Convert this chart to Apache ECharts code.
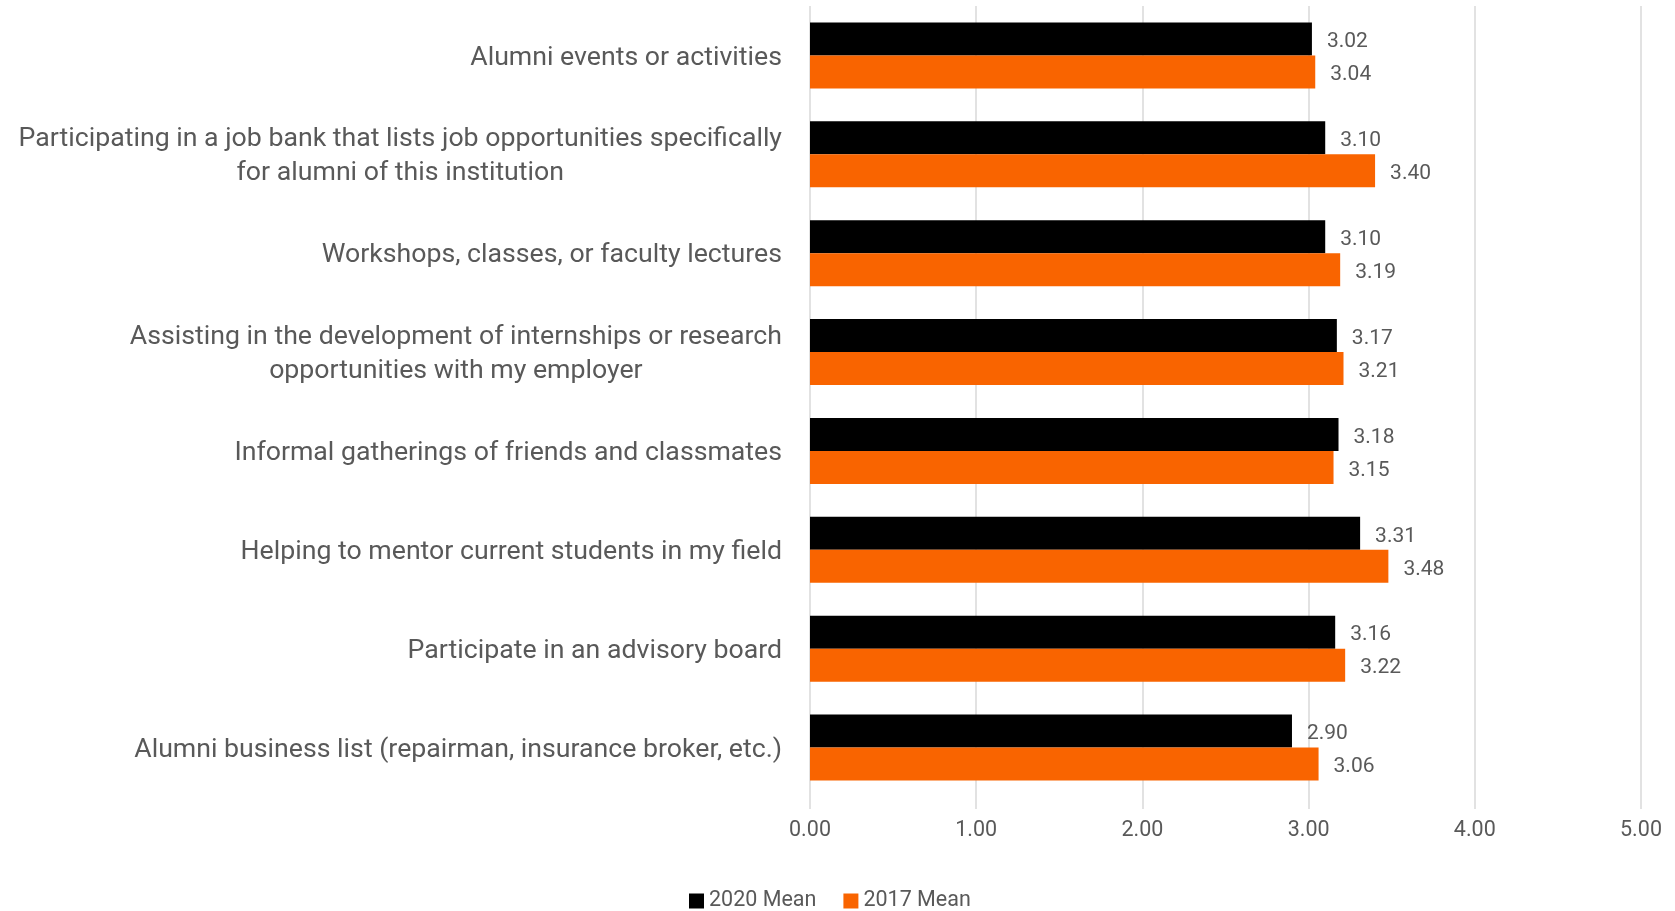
<!DOCTYPE html>
<html>
<head>
<meta charset="utf-8">
<script src="https://cdn.jsdelivr.net/npm/echarts@6/dist/echarts.min.js"></script>
<style>
html,body{margin:0;padding:0;background:#fff;}
#chart{width:1675px;height:911px;}
</style>
</head>
<body>
<div id="chart"></div>
<script>
const categories = [
  ["Alumni events or activities"],
  ["Participating in a job bank that lists job opportunities specifically", "for alumni of this institution"],
  ["Workshops, classes, or faculty lectures"],
  ["Assisting in the development of internships or research", "opportunities with my employer"],
  ["Informal gatherings of friends and classmates"],
  ["Helping to mentor current students in my field"],
  ["Participate in an advisory board"],
  ["Alumni business list (repairman, insurance broker, etc.)"]
];
const mean2020 = [3.02, 3.10, 3.10, 3.17, 3.18, 3.31, 3.16, 2.90];
const mean2017 = [3.04, 3.40, 3.19, 3.21, 3.15, 3.48, 3.22, 3.06];
const seriesNames = ["2020 Mean", "2017 Mean"];

const FONT = "Roboto";
const TEXT = "#595959";

const chart = echarts.init(document.getElementById('chart'));
chart.setOption({
  animation: false,
  textStyle: {fontFamily: FONT},
  grid: {left: 810, right: 34, top: 6, bottom: 114, containLabel: false},
  legend: {
    data: seriesNames,
    top: 885,
    left: 684,
    itemWidth: 15,
    itemHeight: 15,
    itemGap: 27,
    icon: 'rect',
    textStyle: {color: TEXT, fontSize: 21.5, fontFamily: FONT}
  },
  xAxis: {
    type: 'value',
    min: 0, max: 5, interval: 1,
    axisLine: {show: false},
    axisTick: {show: true, length: 12, lineStyle: {color: '#d9d9d9', width: 1.5}},
    splitLine: {lineStyle: {color: '#d9d9d9', width: 1.5}},
    axisLabel: {
      color: TEXT, fontSize: 21.5, margin: 23,
      formatter: v => v.toFixed(2)
    }
  },
  yAxis: {
    type: 'category',
    inverse: true,
    data: categories.map(c => c.join('\n')),
    axisLine: {show: false},
    axisTick: {show: false},
    axisLabel: {
      margin: 28,
      color: TEXT,
      fontSize: 26.7,
      fontFamily: FONT,
      padding: [5, 0, 0, 0],
      formatter: v => v.split('\n').map(s => '{c|' + s + '}').join('\n'),
      rich: {c: {align: 'center', color: TEXT, fontSize: 26.7, fontFamily: FONT, lineHeight: 34}}
    }
  },
  series: [
    {
      name: seriesNames[0], type: 'bar', data: mean2020,
      barWidth: 33, barGap: '0%',
      itemStyle: {color: '#000000'},
      label: {show: true, position: 'right', distance: 15, offset: [0, 3], color: TEXT, fontSize: 21, formatter: p => p.value.toFixed(2)}
    },
    {
      name: seriesNames[1], type: 'bar', data: mean2017,
      barWidth: 33, barGap: '0%',
      itemStyle: {color: '#F96400'},
      label: {show: true, position: 'right', distance: 15, offset: [0, 3], color: TEXT, fontSize: 21, formatter: p => p.value.toFixed(2)}
    }
  ]
});
</script>
</body>
</html>
